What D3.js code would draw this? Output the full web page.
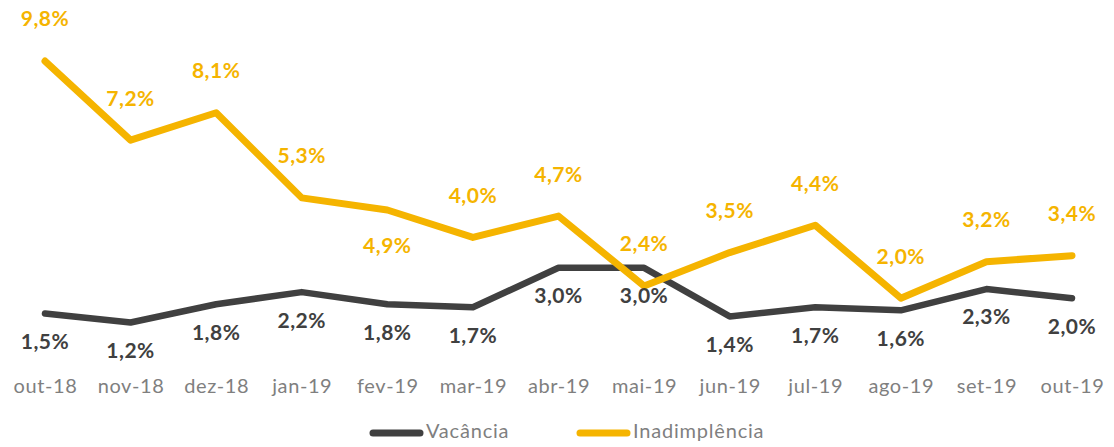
<!DOCTYPE html>
<html>
<head>
<meta charset="utf-8">
<script src="https://cdn.jsdelivr.net/npm/d3@7"></script>
<style>
  body { margin: 0; background: #fff; }
  svg { display: block; font-family: Lato, "Open Sans", sans-serif; }
</style>
</head>
<body>
<div id="chart"></div>
<script>
// data
var months = ["out-18", "nov-18", "dez-18", "jan-19", "fev-19", "mar-19", "abr-19",
              "mai-19", "jun-19", "jul-19", "ago-19", "set-19", "out-19"];
var vacancia = [1.5, 1.2, 1.8, 2.2, 1.8, 1.7, 3.0, 3.0, 1.4, 1.7, 1.6, 2.3, 2.0];
var inadimplencia = [9.8, 7.2, 8.1, 5.3, 4.9, 4.0, 4.7, 2.4, 3.5, 4.4, 2.0, 3.2, 3.4];
var seriesNames = ["Vacância", "Inadimplência"];

// size
var width = 1114;
var height = 447;

// colors
var gray_color = "#404040";
var yellow_color = "#F5B400";
var axis_color = "#7f7f7f";

var svg = d3.select("#chart")
            .append("svg")
            .attr("width", width)
            .attr("height", height);

// scales
var xScale = d3.scalePoint()
               .domain(months)
               .range([45, 1072]);
var yScale = d3.scaleLinear()
               .domain([0, 10])
               .range([359, 55]);

// x axis (labels only)
var xAxis = d3.axisBottom(xScale).tickSize(0).tickPadding(0);
var gx = svg.append("g")
            .attr("transform", "translate(0,379)")
            .call(xAxis);
gx.select(".domain").remove();
gx.selectAll("text")
  .attr("fill", axis_color)
  .attr("font-size", 20)
  .attr("letter-spacing", 0.6)
  .attr("font-family", "Lato, 'Open Sans', sans-serif");

var line = d3.line()
             .x(function(d, i) { return xScale(months[i]); })
             .y(function(d) { return yScale(d); });

// Vacância line
svg.append("path")
   .datum(vacancia)
   .attr("fill", "none")
   .attr("stroke", gray_color)
   .attr("stroke-width", 6.5)
   .attr("stroke-linecap", "round")
   .attr("stroke-linejoin", "round")
   .attr("d", line);

// Inadimplência line
svg.append("path")
   .datum(inadimplencia)
   .attr("fill", "none")
   .attr("stroke", yellow_color)
   .attr("stroke-width", 7)
   .attr("stroke-linecap", "round")
   .attr("stroke-linejoin", "round")
   .attr("d", line);

function fmt(v) { return v.toFixed(1).replace(".", ",") + "%"; }

// labels Vacância (below)
svg.selectAll(".lbl_vac")
   .data(vacancia)
   .enter().append("text")
   .attr("class", "lbl_vac")
   .attr("x", function(d, i) { return xScale(months[i]); })
   .attr("y", function(d) { return yScale(d) + 30; })
   .attr("text-anchor", "middle")
   .attr("dominant-baseline", "middle")
   .attr("font-weight", "bold")
   .attr("font-size", 21)
   .attr("letter-spacing", 0.5)
   .attr("fill", gray_color)
   .text(fmt);

// labels Inadimplência (above; fev-19 below)
svg.selectAll(".lbl_ina")
   .data(inadimplencia)
   .enter().append("text")
   .attr("class", "lbl_ina")
   .attr("x", function(d, i) { return xScale(months[i]); })
   .attr("y", function(d, i) {
     return months[i] === "fev-19" ? yScale(d) + 38 : yScale(d) - 40;
   })
   .attr("text-anchor", "middle")
   .attr("dominant-baseline", "middle")
   .attr("font-weight", "bold")
   .attr("font-size", 21)
   .attr("letter-spacing", 0.5)
   .attr("fill", yellow_color)
   .text(fmt);

// legend
var legend = svg.append("g").attr("transform", "translate(0,433)");
var legendX = [370, 577];
var legendColors = [gray_color, yellow_color];
seriesNames.forEach(function(name, i) {
  legend.append("line")
        .attr("x1", legendX[i] + 3)
        .attr("x2", legendX[i] + 50)
        .attr("y1", 0)
        .attr("y2", 0)
        .attr("stroke", legendColors[i])
        .attr("stroke-width", 7)
        .attr("stroke-linecap", "round");
  legend.append("text")
        .attr("x", legendX[i] + 56)
        .attr("y", 0)
        .attr("dominant-baseline", "middle")
        .attr("font-size", 20)
        .attr("letter-spacing", 0.8)
        .attr("fill", axis_color)
        .text(name);
});
</script>
</body>
</html>
